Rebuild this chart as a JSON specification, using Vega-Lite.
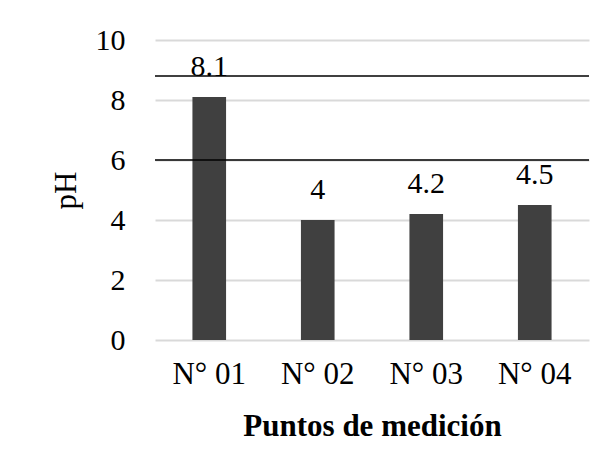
{
  "$schema": "https://vega.github.io/schema/vega-lite/v6.json",
  "width": 434,
  "height": 300,
  "autosize": "none",
  "padding": {"left": 155, "top": 40, "right": 20, "bottom": 133},
  "background": "white",
  "config": {
    "view": {"stroke": null},
    "font": "Liberation Serif"
  },
  "datasets": {
    "bars": [
      {"punto": "N° 01", "ph": 8.1, "label": "8.1"},
      {"punto": "N° 02", "ph": 4.0, "label": "4"},
      {"punto": "N° 03", "ph": 4.2, "label": "4.2"},
      {"punto": "N° 04", "ph": 4.5, "label": "4.5"}
    ],
    "limits": [
      {"limite": 8.8},
      {"limite": 6.0}
    ]
  },
  "layer": [
    {
      "data": {"name": "bars"},
      "mark": {"type": "bar", "color": "#404040"},
      "encoding": {
        "x": {
          "field": "punto",
          "type": "nominal",
          "sort": null,
          "scale": {"paddingInner": 0.69, "paddingOuter": 0.345},
          "axis": {
            "title": "Puntos de medición",
            "titleFont": "Liberation Serif",
            "titleFontSize": 31,
            "titleFontWeight": "bold",
            "titleColor": "#000000",
            "titlePadding": 22,
            "labelFont": "Liberation Serif",
            "labelFontSize": 31,
            "labelColor": "#000000",
            "labelAngle": 0,
            "labelPadding": 19,
            "ticks": false,
            "domain": false
          }
        },
        "y": {
          "field": "ph",
          "type": "quantitative",
          "scale": {"domain": [0, 10]},
          "axis": {
            "title": "pH",
            "titleFont": "Liberation Serif",
            "titleFontSize": 31,
            "titleFontWeight": "normal",
            "titleColor": "#000000",
            "titlePadding": 13,
            "labelFont": "Liberation Serif",
            "labelFontSize": 30,
            "labelColor": "#000000",
            "labelPadding": 30,
            "values": [0, 2, 4, 6, 8, 10],
            "ticks": false,
            "domain": false,
            "grid": true,
            "gridColor": "#d9d9d9",
            "gridWidth": 2
          }
        }
      }
    },
    {
      "data": {"name": "bars"},
      "mark": {"type": "text", "font": "Liberation Serif", "fontSize": 30, "color": "#000000", "baseline": "alphabetic", "dy": -21},
      "encoding": {
        "x": {"field": "punto", "type": "nominal", "sort": null},
        "y": {"field": "ph", "type": "quantitative"},
        "text": {"field": "label"}
      }
    },
    {
      "data": {"name": "limits"},
      "mark": {"type": "rule", "color": "#000000", "strokeWidth": 1.5},
      "encoding": {
        "y": {"field": "limite", "type": "quantitative"}
      }
    }
  ]
}
